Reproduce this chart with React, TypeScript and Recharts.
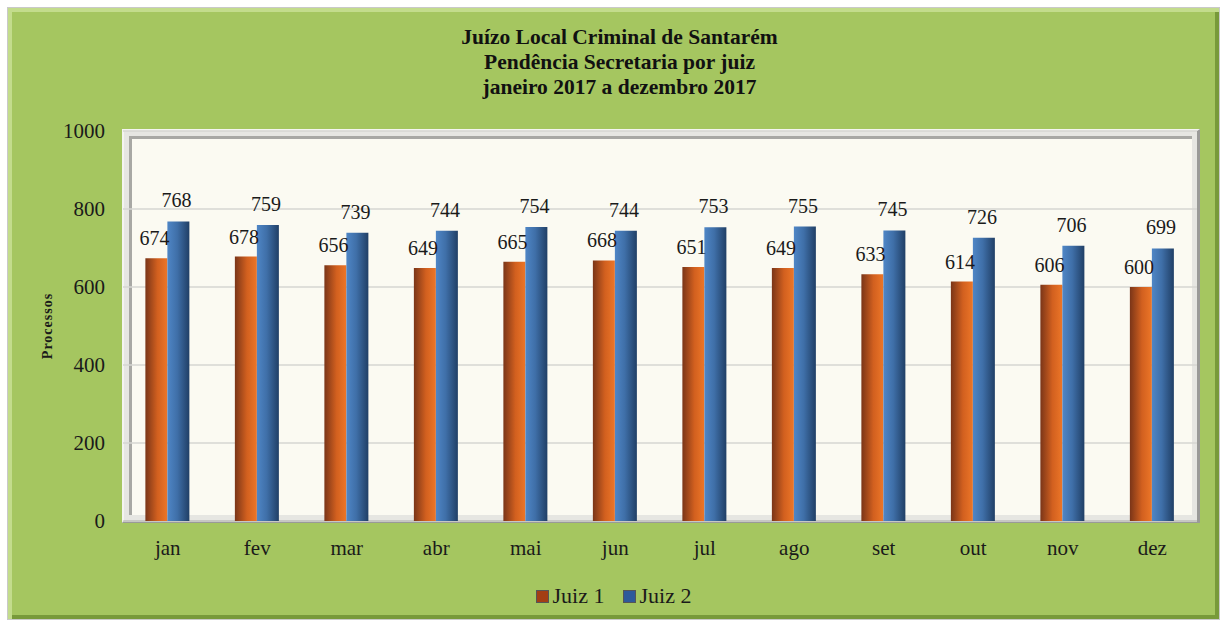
import { Bar, BarChart, CartesianGrid, LabelList, XAxis, YAxis } from "recharts";

const months = ["jan", "fev", "mar", "abr", "mai", "jun", "jul", "ago", "set", "out", "nov", "dez"];
const juiz1 = [674, 678, 656, 649, 665, 668, 651, 649, 633, 614, 606, 600];
const juiz2 = [768, 759, 739, 744, 754, 744, 753, 755, 745, 726, 706, 699];
const yTicks = [0, 200, 400, 600, 800, 1000];
const titleLines = ["Juízo Local Criminal de Santarém", "Pendência Secretaria por juiz", "janeiro 2017 a dezembro 2017"];

const data = months.map((m, i) => ({ month: m, juiz1: juiz1[i], juiz2: juiz2[i] }));

const FONT = "'Liberation Serif', 'DejaVu Serif', serif";
const GREEN = "#a5c660";

export default function App() {
  return (
    <div style={{ position: "absolute", left: 0, top: 0, width: 1227, height: 626, background: "#fff", fontFamily: FONT }}>
      {/* green panel with bevel */}
      <div
        style={{
          position: "absolute",
          left: 7,
          top: 7,
          width: 1213,
          height: 613,
          background: GREEN,
          boxSizing: "border-box",
          border: "1px solid #c9c9c9",
          boxShadow: "inset 4px 4px 0 #c3dc8c, inset -4px -4px 0 #789a3a",
        }}
      />
      {/* plot frame */}
      <div
        style={{
          position: "absolute",
          left: 122,
          top: 129,
          width: 1078,
          height: 394,
          boxSizing: "border-box",
          background: "#e6e6e2",
          borderTop: "2px solid #f4f4f0",
          borderLeft: "2px solid #f4f4f0",
          borderRight: "3px solid #9a9a98",
          borderBottom: "3px solid #9a9a98",
        }}
      >
        <div
          style={{
            position: "absolute",
            left: 5,
            top: 5,
            right: 5,
            bottom: 5,
            background: "#fbfaf2",
            borderTop: "3px solid #a8a8a4",
            borderLeft: "3px solid #a8a8a4",
          }}
        />
      </div>
      {/* title */}
      <div
        style={{
          position: "absolute",
          left: 6,
          top: 25,
          width: 1227,
          textAlign: "center",
          fontWeight: "bold",
          fontSize: 21.5,
          lineHeight: "25px",
          color: "#111",
        }}
      >
        {titleLines.map((t) => (
          <div key={t}>{t}</div>
        ))}
      </div>
      <div style={{ position: "absolute", left: 0, top: 0 }}>
        <BarChart
          width={1227}
          height={626}
          data={data}
          margin={{ top: 131, right: 30, bottom: 65, left: 63 }}
          barCategoryGap="25%"
          barGap={0}
        >
          <defs>
            <linearGradient id="g-orange" x1="0" y1="0" x2="1" y2="0">
              <stop offset="0%" stopColor="#7a3518" />
              <stop offset="55%" stopColor="#d2601f" />
              <stop offset="100%" stopColor="#ec7628" />
            </linearGradient>
            <linearGradient id="g-blue" x1="0" y1="0" x2="1" y2="0">
              <stop offset="0%" stopColor="#4f86c6" />
              <stop offset="45%" stopColor="#3f6fa8" />
              <stop offset="100%" stopColor="#203f66" />
            </linearGradient>
          </defs>
          <CartesianGrid vertical={false} stroke="#d6d6d2" strokeWidth={1.5} />
          <XAxis
            dataKey="month"
            axisLine={false}
            tickLine={false}
            height={40}
            tickMargin={13}
            tick={{ fontSize: 21, fill: "#1a1a1a", fontFamily: FONT }}
          />
          <YAxis
            domain={[0, 1000]}
            ticks={yTicks}
            axisLine={false}
            tickLine={false}
            tickSize={8}
            tickMargin={10}
            width={60}
            tick={{ fontSize: 21, fill: "#1a1a1a", fontFamily: FONT }}
            label={{
              value: "Processos",
              content: () => (
                <text
                  x={52}
                  y={326}
                  transform="rotate(-90 52 326)"
                  textAnchor="middle"
                  fontSize={14}
                  fontWeight="bold"
                  fill="#1a1a1a"
                  fontFamily={FONT}
                  letterSpacing={1}
                >
                  Processos
                </text>
              ),
            }}
          />
          <Bar dataKey="juiz1" name="Juiz 1" fill="url(#g-orange)" isAnimationActive={false}>
            <LabelList dataKey="juiz1" position="top" offset={13} dx={-2} style={{ fontSize: 20, fill: "#1a1a1a", fontFamily: FONT }} />
          </Bar>
          <Bar dataKey="juiz2" name="Juiz 2" fill="url(#g-blue)" isAnimationActive={false}>
            <LabelList dataKey="juiz2" position="top" offset={14} dx={-2} style={{ fontSize: 20, fill: "#1a1a1a", fontFamily: FONT }} />
          </Bar>
        </BarChart>
      </div>
      {/* legend */}
      <div
        style={{
          position: "absolute",
          left: 0,
          top: 583,
          width: 1227,
          display: "flex",
          justifyContent: "center",
          gap: 18,
          fontSize: 22,
          color: "#1a1a1a",
          lineHeight: "26px",
        }}
      >
        {[
          { name: "Juiz 1", color: "#a33e14" },
          { name: "Juiz 2", color: "#2e5a9a" },
        ].map((s) => (
          <div key={s.name} style={{ display: "flex", alignItems: "center", gap: 4 }}>
            <span style={{ width: 11, height: 11, background: s.color, border: "1px solid #555", display: "inline-block" }} />
            <span>{s.name}</span>
          </div>
        ))}
      </div>
    </div>
  );
}
